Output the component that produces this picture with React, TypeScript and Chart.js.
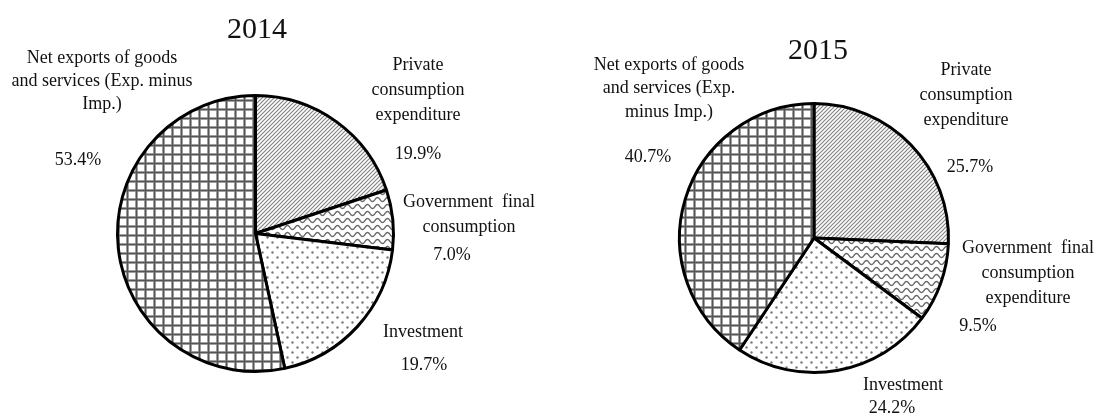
import React, { useEffect, useRef } from 'react';
import { Chart, registerables } from 'chart.js';

Chart.register(...registerables);

// ---------- data ----------
const categories = [
  'Private consumption expenditure',
  'Government final consumption expenditure',
  'Investment',
  'Net exports of goods and services (Exp. minus Imp.)',
];
const years = ['2014', '2015'];
const values2014 = [19.9, 7.0, 19.7, 53.4];
const values2015 = [25.7, 9.5, 24.2, 40.7];
const labelLines2014 = [
  ['Private', 'consumption', 'expenditure'],
  ['Government  final', 'consumption'],
  ['Investment'],
  ['Net exports of goods', 'and services (Exp. minus', 'Imp.)'],
];
const labelLines2015 = [
  ['Private', 'consumption', 'expenditure'],
  ['Government  final', 'consumption', 'expenditure'],
  ['Investment'],
  ['Net exports of goods', 'and services (Exp.', 'minus Imp.)'],
];

// ---------- layout (page pixels) ----------
type LabelPos = { x: number; y: number; lh: number; px: number; py: number };
type Layout = {
  left: number;
  padding: { left: number; right: number; top: number; bottom: number };
  title: { x: number; y: number };
  labels: LabelPos[];
};
const CANVAS_W = 549;
const CANVAS_H = 419;
const layout2014: Layout = {
  left: 0,
  padding: { left: 116, right: 154, top: 94, bottom: 46 },
  title: { x: 257, y: 38 },
  labels: [
    { x: 418, y: 70, lh: 25, px: 418, py: 159 },
    { x: 469, y: 207, lh: 25, px: 452, py: 260 },
    { x: 423, y: 337, lh: 25, px: 424, py: 370 },
    { x: 102, y: 63, lh: 23, px: 78, py: 165 },
  ],
};
const layout2015: Layout = {
  left: 549,
  padding: { left: 129, right: 148, top: 102, bottom: 45 },
  title: { x: 818, y: 59 },
  labels: [
    { x: 966, y: 75, lh: 25, px: 970, py: 172 },
    { x: 1028, y: 253, lh: 25, px: 978, py: 331 },
    { x: 903, y: 390, lh: 25, px: 892, py: 413 },
    { x: 669, y: 70, lh: 23.3, px: 648, py: 162 },
  ],
};

const FONT = '"Liberation Serif", "Times New Roman", serif';

function makePatterns(ctx: CanvasRenderingContext2D): CanvasPattern[] {
  const tile = (w: number, h: number, draw: (c: CanvasRenderingContext2D) => void) => {
    const t = document.createElement('canvas');
    t.width = w;
    t.height = h;
    const c = t.getContext('2d')!;
    c.fillStyle = '#ffffff';
    c.fillRect(0, 0, w, h);
    draw(c);
    return ctx.createPattern(t, 'repeat')!;
  };
  // diagonal hatch
  const diag = tile(4, 4, (c) => {
    c.strokeStyle = '#858585';
    c.lineWidth = 1.2;
    c.beginPath();
    c.moveTo(-1, 5); c.lineTo(5, -1);
    c.moveTo(-1, 1); c.lineTo(1, -1);
    c.moveTo(3, 5); c.lineTo(5, 3);
    c.stroke();
  });
  // waves
  const wave = tile(10, 7, (c) => {
    c.strokeStyle = '#686868';
    c.lineWidth = 1.4;
    c.beginPath();
    for (let i = -2; i <= 12; i += 0.5) {
      const y = 3.5 + 2 * Math.sin((2 * Math.PI * i) / 10);
      if (i === -2) c.moveTo(i, y); else c.lineTo(i, y);
    }
    c.stroke();
  });
  // dots
  const dots = tile(10, 10, (c) => {
    c.fillStyle = '#7a7a7a';
    c.beginPath(); c.arc(2.5, 2.5, 1.2, 0, Math.PI * 2); c.fill();
    c.beginPath(); c.arc(7.5, 7.5, 1.2, 0, Math.PI * 2); c.fill();
  });
  // grid
  const grid = tile(9, 9, (c) => {
    c.fillStyle = '#b8b8b8';
    c.fillRect(0, 0, 3, 9);
    c.fillRect(0, 0, 9, 3);
    c.fillStyle = '#555555';
    c.fillRect(0.75, 0, 1.5, 9);
    c.fillRect(0, 0.75, 9, 1.5);
  });
  return [diag, wave, dots, grid];
}

function PieChart({ year, values, lines, lay }: { year: string; values: number[]; lines: string[][]; lay: Layout }) {
  const ref = useRef<HTMLCanvasElement | null>(null);
  useEffect(() => {
    const canvas = ref.current!;
    const ctx = canvas.getContext('2d')!;
    const patterns = makePatterns(ctx);
    const labelPlugin = {
      id: 'pieLabels',
      afterDraw(chart: any) {
        const c = chart.ctx as CanvasRenderingContext2D;
        c.save();
        c.fillStyle = '#111111';
        c.textAlign = 'center';
        c.textBaseline = 'alphabetic';
        c.font = `30px ${FONT}`;
        c.fillText(year, lay.title.x - lay.left, lay.title.y);
        c.font = `18px ${FONT}`;
        lay.labels.forEach((p, i) => {
          lines[i].forEach((ln, j) => {
            c.fillText(ln, p.x - lay.left, p.y + j * p.lh);
          });
          c.fillText(values[i].toFixed(1) + '%', p.px - lay.left, p.py);
        });
        c.restore();
      },
    };
    const chart = new Chart(canvas, {
      type: 'pie',
      data: {
        labels: categories,
        datasets: [
          {
            data: values,
            backgroundColor: patterns as any,
            borderColor: '#000000',
            borderWidth: 3,
          },
        ],
      },
      options: {
        animation: false,
        responsive: false,
        events: [],
        layout: { padding: lay.padding },
        plugins: {
          legend: { display: false },
          tooltip: { enabled: false },
          title: { display: false },
        },
      },
      plugins: [labelPlugin],
    });
    return () => chart.destroy();
  }, [year, values, lines, lay]);
  return (
    <canvas
      ref={ref}
      width={CANVAS_W}
      height={CANVAS_H}
      style={{ position: 'absolute', left: lay.left, top: 0, width: CANVAS_W, height: CANVAS_H }}
    />
  );
}

export default function App() {
  return (
    <div style={{ position: 'fixed', left: 0, top: 0, width: 1098, height: 419, background: '#ffffff', overflow: 'hidden' }}>
      <PieChart year={years[0]} values={values2014} lines={labelLines2014} lay={layout2014} />
      <PieChart year={years[1]} values={values2015} lines={labelLines2015} lay={layout2015} />
    </div>
  );
}
